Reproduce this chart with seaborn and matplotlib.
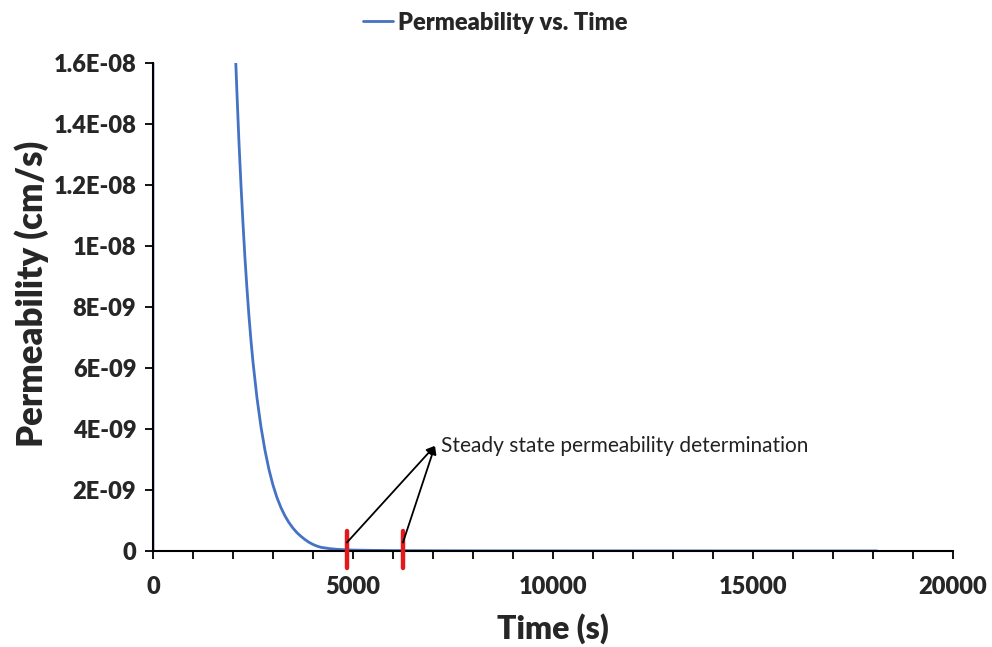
import matplotlib
matplotlib.use("Agg")
import matplotlib.pyplot as plt
import seaborn as sns
import pandas as pd

# ---- data ----
time_s = [0, 5, 500, 1000, 1500, 2000, 2050, 2100, 2150, 2200, 2250, 2300, 2350, 2400,
          2450, 2500, 2600, 2700, 2800, 2900, 3000, 3100, 3200, 3300, 3400, 3500, 3600,
          3700, 3800, 3900, 4000, 4100, 4200, 4400, 4600, 4800, 5000, 5500, 6000, 7000,
          8000, 10000, 14000, 18100]
permeability = [0.0, 4.0e-7, 1.5e-7, 7.0e-8, 3.5e-8, 1.87e-8, 1.67e-8, 1.50e-8, 1.34e-8,
                1.20e-8, 1.075e-8, 9.6e-9, 8.6e-9, 7.7e-9, 6.9e-9, 6.2e-9, 5.02e-9, 4.07e-9,
                3.3e-9, 2.67e-9, 2.16e-9, 1.75e-9, 1.42e-9, 1.15e-9, 9.3e-10, 7.5e-10,
                6.0e-10, 4.8e-10, 3.75e-10, 2.85e-10, 2.15e-10, 1.6e-10, 1.2e-10, 8.0e-11,
                5.5e-11, 4.0e-11, 3.0e-11, 2.0e-11, 1.4e-11, 8.0e-12, 5.0e-12, 3.0e-12,
                2.0e-12, 1.5e-12]

y_ticks = [0, 2e-9, 4e-9, 6e-9, 8e-9, 1e-8, 1.2e-8, 1.4e-8, 1.6e-8]
y_tick_labels = ["0", "2E-09", "4E-09", "6E-09", "8E-09", "1E-08", "1.2E-08", "1.4E-08", "1.6E-08"]
x_ticks = list(range(0, 20001, 1000))
x_tick_labels = [str(v) if v % 5000 == 0 else "" for v in x_ticks]

steady_marks = [4850, 6250]          # red markers on time axis
marker_span = [-5.6e-10, 6.6e-10]    # vertical extent of red markers
arrow_starts = [(4850, 2.8e-10), (6250, 2.8e-10)]
arrow_tip = (7050, 3.45e-9)
annotation_text = "Steady state permeability determination"

df = pd.DataFrame({"Time (s)": time_s, "Permeability (cm/s)": permeability})

sns.set_style("ticks")
plt.rcParams["font.family"] = ["Lato", "DejaVu Sans"]

fig = plt.figure(figsize=(9.92, 6.47), dpi=100)
ax = fig.add_axes([0.1542, 0.1484, 0.8065, 0.7542])

sns.lineplot(data=df, x="Time (s)", y="Permeability (cm/s)", ax=ax, sort=False,
             color="#4472C4", linewidth=2.0, label="Permeability vs. Time")

ax.set_xlim(0, 20000)
ax.set_ylim(0, 1.6e-8)
ax.set_xticks(x_ticks)
ax.set_xticklabels(x_tick_labels)
ax.set_yticks(y_ticks)
ax.set_yticklabels(y_tick_labels)

for lab in ax.get_xticklabels() + ax.get_yticklabels():
    lab.set_fontweight("heavy")
    lab.set_fontsize(17)
ax.tick_params(axis="both", direction="out", length=6, width=1.3, color="black", pad=6)
ax.tick_params(axis="x", pad=12)

ax.set_xlabel("Time (s)", fontsize=23, fontweight="heavy", labelpad=11)
ax.set_ylabel("Permeability (cm/s)", fontsize=25, fontweight="heavy", labelpad=6)
ax.yaxis.set_label_coords(-0.13, 0.527)

sns.despine(ax=ax)
for s in ["left", "bottom"]:
    ax.spines[s].set_color("black")
    ax.spines[s].set_linewidth(1.5)

# red markers
for xm in steady_marks:
    ax.plot([xm, xm], marker_span, color="#E31A1C", linewidth=3.2, clip_on=False, zorder=5)

# arrows
for (xs, ys) in arrow_starts:
    ax.annotate("", xy=arrow_tip, xytext=(xs, ys),
                arrowprops=dict(arrowstyle="-|>", color="black", lw=1.3,
                                mutation_scale=12, shrinkA=0, shrinkB=0), zorder=6)
ax.text(arrow_tip[0] + 150, arrow_tip[1], annotation_text, fontsize=15,
        va="center", ha="left", color="#222222")

leg = ax.legend(loc="upper center", bbox_to_anchor=(0.4275, 1.149), frameon=False,
                handlelength=1.3, handletextpad=0.2, fontsize=17)
for t in leg.get_texts():
    t.set_fontweight("heavy")

fig.savefig("out.png", dpi=100)
